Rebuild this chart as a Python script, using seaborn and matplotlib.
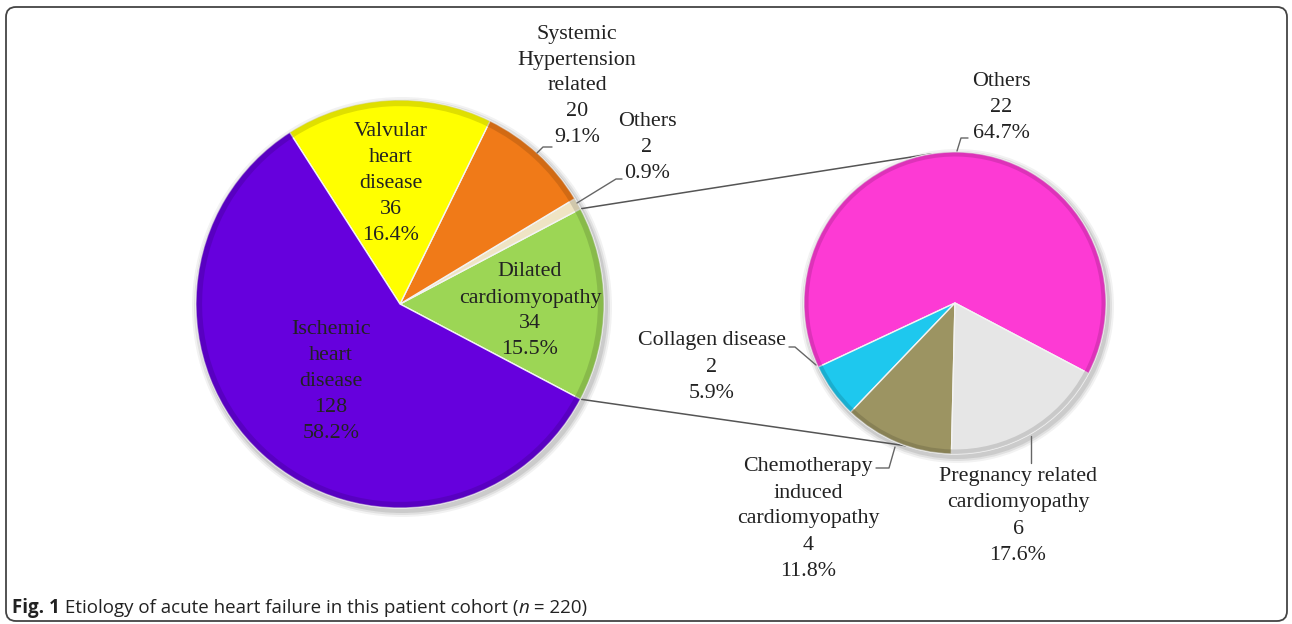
import matplotlib
matplotlib.use("Agg")
import matplotlib.pyplot as plt
import matplotlib.colors as mcolors
from matplotlib.patches import Circle, FancyBboxPatch
import numpy as np
import seaborn as sns

# dati: pie principale (eziologia) e pie secondaria (dettaglio cardiomiopatia dilatativa)
main_labels = ["Dilated\ncardiomyopathy", "Others", "Systemic\nHypertension\nrelated",
               "Valvular\nheart\ndisease", "Ischemic\nheart\ndisease"]
main_counts = [34, 2, 20, 36, 128]
main_colors = ["#9cd655", "#efe4c4", "#f07a18", "#ffff00", "#6600dd"]

sub_labels = ["Others", "Collagen disease", "Chemotherapy\ninduced\ncardiomyopathy",
              "Pregnancy related\ncardiomyopathy"]
sub_counts = [22, 2, 4, 6]
sub_colors = ["#fd3ad4", "#1ec8ee", "#9c9462", "#e6e6e6"]

W, H = 1292, 624


def Y(y):
    # da coordinate pixel (y verso il basso) a coordinate dati
    return H - y


sns.set_style("white")
plt.rcParams["font.family"] = ["Liberation Serif", "DejaVu Serif"]

fig = plt.figure(figsize=(W / 100, H / 100), dpi=100)
ax = fig.add_axes([0, 0, 1, 1])

c_main, r_main = (400, Y(304)), 204
c_sub, r_sub = (955, Y(303)), 151
start = -(main_counts[0] / sum(main_counts) * 360) / 2


def draw_pie(counts, colors, center, radius):
    # ombra morbida
    for k, a in [(6, 0.05), (4, 0.07), (2, 0.09)]:
        ax.add_patch(Circle((center[0] + 2, center[1] - 3), radius + k,
                            color="black", alpha=a, lw=0, zorder=0))
    wedges, _ = ax.pie(counts, colors=colors, startangle=start, counterclock=True,
                       center=center, radius=radius, frame=True,
                       wedgeprops=dict(edgecolor="#f4f4f4", linewidth=1.0))
    for w in wedges:
        w.set_zorder(2)
    # bordo scuro per simulare l'effetto smussato
    dark = [tuple(np.array(mcolors.to_rgb(c)) * 0.72) for c in colors]
    rings, _ = ax.pie(counts, colors=dark, startangle=start, counterclock=True,
                      center=center, radius=radius, frame=True,
                      wedgeprops=dict(width=radius * 0.03, linewidth=0, alpha=0.45))
    for w in rings:
        w.set_zorder(3)
    return wedges


wm = draw_pie(main_counts, main_colors, c_main, r_main)
ws = draw_pie(sub_counts, sub_colors, c_sub, r_sub)

# linee di collegamento tra lo spicchio "Dilated" e la pie secondaria
t1, t2 = np.radians(wm[0].theta1), np.radians(wm[0].theta2)
p_top = (c_main[0] + r_main * np.cos(t2), c_main[1] + r_main * np.sin(t2))
p_bot = (c_main[0] + r_main * np.cos(t1), c_main[1] + r_main * np.sin(t1))
q_top = (c_sub[0] + r_sub * np.cos(np.radians(99)), c_sub[1] + r_sub * np.sin(np.radians(99)))
q_bot = (c_sub[0] + r_sub * np.cos(np.radians(-109)), c_sub[1] + r_sub * np.sin(np.radians(-109)))
ax.plot([p_top[0], q_top[0]], [p_top[1], q_top[1]], color="#555555", lw=1.1, zorder=1)
ax.plot([p_bot[0], q_bot[0]], [p_bot[1], q_bot[1]], color="#555555", lw=1.1, zorder=1)

tot_m, tot_s = sum(main_counts), sum(sub_counts)
fs = 15.8
step = 26  # distanza tra le righe, in pixel


def label(x, y, lab, n, tot):
    # una riga per oggetto testo, centrate attorno a y
    lines = lab.split("\n") + [str(n), f"{n / tot * 100:.1f}%"]
    y0 = y - step * (len(lines) - 1) / 2
    for i, s in enumerate(lines):
        ax.text(x, Y(y0 + i * step), s, ha="center", va="center", fontsize=fs,
                color="#222222", zorder=5)


main_pos = [(530, 311), (647, 147), (577, 86), (391, 183), (331, 381)]
for lab, n, (x, y) in zip(main_labels, main_counts, main_pos):
    label(x, y, lab, n, tot_m)

sub_pos = [(1001, 107), (712, 367), (808, 519), (1018, 516)]
for lab, n, (x, y) in zip(sub_labels, sub_counts, sub_pos):
    label(x, y, lab, n, tot_s)

# linee guida delle etichette
leaders = [
    [(552, 147), (543, 147), (537, 153)],
    [(622, 179), (616, 179), (577, 203)],
    [(968, 138), (961, 138), (957, 151)],
    [(789, 347), (795, 347), (816, 365)],
    [(876, 468), (889, 468), (895, 447)],
    [(1031, 463), (1031, 436)],
]
for seg in leaders:
    xs = [p[0] for p in seg]
    ys = [Y(p[1]) for p in seg]
    ax.plot(xs, ys, color="#666666", lw=1.0, zorder=4)

# cornice arrotondata
ax.add_patch(FancyBboxPatch((6, Y(621)), 1281, 614,
                            boxstyle="round,pad=0,rounding_size=10",
                            fill=False, edgecolor="#444444", lw=1.3, zorder=6))

# didascalia
fig.canvas.draw()
renderer = fig.canvas.get_renderer()
cap_kw = dict(fontsize=13.5, color="#222222", va="baseline", zorder=6,
              family=["Open Sans", "DejaVu Sans"])
parts = [("Fig. 1", "bold", "normal"),
         (" Etiology of acute heart failure in this patient cohort (", "normal", "normal"),
         ("n", "normal", "italic"),
         (" = 220)", "normal", "normal")]
x = 12
for s, wt, st in parts:
    t = ax.text(x, Y(613), s, weight=wt, style=st, **cap_kw)
    bb = t.get_window_extent(renderer)
    x += bb.width

ax.set_xlim(0, W)
ax.set_ylim(0, H)
ax.set_aspect("equal")
ax.axis("off")

fig.savefig("out.png", dpi=100)
